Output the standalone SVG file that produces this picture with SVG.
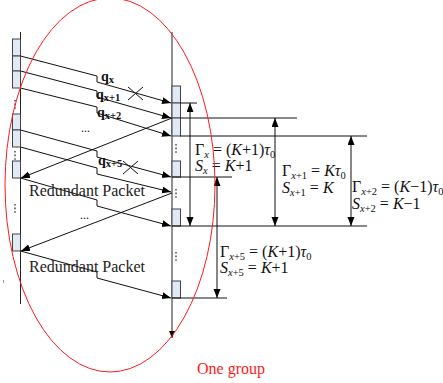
<svg xmlns="http://www.w3.org/2000/svg" width="443" height="383" viewBox="0 0 443 383">
<defs>
<marker id="ah" markerUnits="userSpaceOnUse" markerWidth="10" markerHeight="8" refX="9" refY="3.5" orient="auto-start-reverse"><path d="M0,0 L9,3.5 L0,7 z" fill="#000"/></marker>
<marker id="ahs" markerUnits="userSpaceOnUse" markerWidth="8" markerHeight="7" refX="7" refY="3" orient="auto"><path d="M0,0 L7,3 L0,6 z" fill="#000"/></marker>
<style>
.tl{stroke:#222;stroke-width:1;fill:none}
.box{fill:#e1e9f4;stroke:#444;stroke-width:1}
.pk{stroke:#111;stroke-width:1;fill:none;marker-end:url(#ah)}
.hl{stroke:#111;stroke-width:1}
.va{stroke:#111;stroke-width:1;marker-start:url(#ah);marker-end:url(#ah)}
.xm{stroke:#111;stroke-width:1}
.dot{stroke:#555;stroke-width:1.6;stroke-dasharray:1.6 2}
text{font-family:"Liberation Serif","Times New Roman",serif;fill:#111}
.t{font-size:16px}
.lbl{font-size:16px;fill:#222}
.q{font-size:14px;font-weight:bold}
.qs{font-size:10.5px;font-weight:bold}
.i{font-style:italic}
.s{font-size:10.5px}
</style>
</defs>

<g id="left-timeline">
<line class="tl" x1="20.5" y1="32" x2="20.5" y2="304"/>
<rect class="box" x="12.5" y="39" width="8" height="17"/>
<rect class="box" x="12.5" y="56" width="8" height="15"/>
<rect class="box" x="12.5" y="71" width="8" height="17"/>
<line class="dot" x1="15" y1="100" x2="15" y2="109"/>
<rect class="box" x="12.5" y="114" width="8" height="16"/>
<rect class="box" x="12.5" y="130" width="8" height="17"/>
<line class="dot" x1="15" y1="151" x2="15" y2="160"/>
<rect class="box" x="12.5" y="161" width="8" height="17"/>
<line class="dot" x1="15" y1="204" x2="15" y2="213"/>
<rect class="box" x="12.5" y="234" width="8" height="17"/>
<line x1="3.5" y1="280" x2="3.5" y2="283" stroke="#999" stroke-width="1"/>
</g>

<g id="right-timeline">
<line class="tl" x1="172" y1="32" x2="172" y2="338" marker-end="url(#ahs)"/>
<rect class="box" x="172" y="86" width="8.5" height="17"/>
<rect class="box" x="172" y="103" width="8.5" height="15"/>
<rect class="box" x="172" y="118" width="8.5" height="18"/>
<line class="dot" x1="176" y1="144" x2="176" y2="154"/>
<rect class="box" x="172" y="161" width="8.5" height="16"/>
<line class="dot" x1="176" y1="189" x2="176" y2="198"/>
<rect class="box" x="172" y="209" width="8.5" height="17"/>
<line class="dot" x1="176" y1="252" x2="176" y2="262"/>
<rect class="box" x="172" y="281" width="8.5" height="17"/>
</g>

<g id="connectors">
<path class="pk" d="M20.5,56 L97,76 L97,82 L171,103"/>
<path class="pk" d="M20.5,71 L97,91 L97,97 L171,118"/>
<path class="pk" d="M20.5,88 L97,107 L97,113 L171,136"/>
<path class="pk" d="M20.5,130 L97,151 L97,157 L171,177"/>
<path class="pk" d="M20.5,147 L97,168 L97,174 L171,192"/>
<path class="pk" d="M20.5,178 L97,200 L97,206 L171,226"/>
<path class="pk" d="M20.5,251 L97,272 L97,278 L171,298"/>
<path class="pk" d="M172,118 L21,178"/>
<path class="pk" d="M172,193 L21,251"/>
<line class="xm" x1="128" y1="87" x2="143" y2="100"/>
<line class="xm" x1="128" y1="100" x2="143" y2="87"/>
<line class="xm" x1="123" y1="161" x2="138" y2="174"/>
<line class="xm" x1="123" y1="174" x2="138" y2="161"/>
<line class="hl" x1="180" y1="103" x2="197" y2="103"/>
<line class="hl" x1="180" y1="118" x2="297" y2="118"/>
<line class="hl" x1="180" y1="136" x2="367" y2="136"/>
<line class="hl" x1="172" y1="177" x2="232" y2="177"/>
<line class="hl" x1="172" y1="226" x2="367" y2="226"/>
<line class="hl" x1="172" y1="298" x2="227" y2="298"/>
<line class="va" x1="190" y1="103" x2="190" y2="226"/>
<line class="va" x1="275" y1="118" x2="275" y2="226"/>
<line class="va" x1="351" y1="136" x2="351" y2="226"/>
<line class="va" x1="217" y1="177" x2="217" y2="298"/>
</g>

<g id="labels">
<text x="101" y="81"><tspan class="q">q</tspan><tspan class="qs" dy="2">x</tspan></text>
<text x="96" y="99"><tspan class="q">q</tspan><tspan class="qs" dy="2">x+1</tspan></text>
<text x="97" y="117"><tspan class="q">q</tspan><tspan class="qs" dy="2">x+2</tspan></text>
<text x="98" y="165"><tspan class="q">q</tspan><tspan class="qs" dy="2">x+5</tspan></text>
<text x="81" y="132" font-size="12">...</text>
<text x="80" y="219" font-size="12">...</text>
<text class="lbl" x="29" y="196">Redundant Packet</text>
<text class="lbl" x="29" y="272">Redundant Packet</text>

<text class="t" x="195" y="155">Γ<tspan class="s i" dy="3">x</tspan><tspan dy="-3"> = (</tspan><tspan class="i">K</tspan>+1)<tspan class="i">τ</tspan><tspan class="s" dy="3">0</tspan></text>
<text class="t" x="195" y="171"><tspan class="i">S</tspan><tspan class="s i" dy="3">x</tspan><tspan dy="-3"> = </tspan><tspan class="i">K</tspan>+1</text>

<text class="t" x="282" y="176">Γ<tspan class="s" dy="3"><tspan class="i">x</tspan>+1</tspan><tspan dy="-3"> = </tspan><tspan class="i">K</tspan><tspan class="i">τ</tspan><tspan class="s" dy="3">0</tspan></text>
<text class="t" x="282" y="193"><tspan class="i">S</tspan><tspan class="s" dy="3"><tspan class="i">x</tspan>+1</tspan><tspan dy="-3"> = </tspan><tspan class="i">K</tspan></text>

<text class="t" x="352" y="192">Γ<tspan class="s" dy="3"><tspan class="i">x</tspan>+2</tspan><tspan dy="-3"> = (</tspan><tspan class="i">K</tspan>−1)<tspan class="i">τ</tspan><tspan class="s" dy="3">0</tspan></text>
<text class="t" x="352" y="209"><tspan class="i">S</tspan><tspan class="s" dy="3"><tspan class="i">x</tspan>+2</tspan><tspan dy="-3"> = </tspan><tspan class="i">K</tspan>−1</text>

<text class="t" x="220" y="257">Γ<tspan class="s" dy="3"><tspan class="i">x</tspan>+5</tspan><tspan dy="-3"> = (</tspan><tspan class="i">K</tspan>+1)<tspan class="i">τ</tspan><tspan class="s" dy="3">0</tspan></text>
<text class="t" x="220" y="273"><tspan class="i">S</tspan><tspan class="s" dy="3"><tspan class="i">x</tspan>+5</tspan><tspan dy="-3"> = </tspan><tspan class="i">K</tspan>+1</text>
</g>

<g id="one-group">
<ellipse cx="110" cy="185" rx="105" ry="187" fill="none" stroke="#ff1a1a" stroke-width="1"/>
<text x="197" y="374" font-size="16" style="fill:#ff1a1a">One group</text>
</g>
</svg>
